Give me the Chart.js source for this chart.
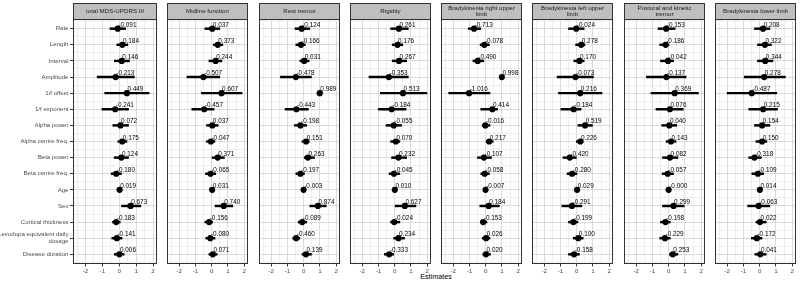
<!DOCTYPE html>
<html lang="en">
<head>
<meta charset="UTF-8">
<title>Estimates by outcome</title>
<script src="https://cdn.jsdelivr.net/npm/chart.js"></script>
<style>
  body { margin: 0; background: #fff; }
  #wrap { position: relative; width: 800px; height: 282px; overflow: hidden; }
  .panel { position: absolute; top: 0; height: 282px; }
  #xlabel {
    position: absolute; left: 336px; width: 200px; top: 272px;
    text-align: center; font: 7.2px 'Liberation Sans', Arial, sans-serif;
    line-height: 10px; color: #000;
  }
</style>
</head>
<body>
<div id="wrap">
  <div id="xlabel">Estimates</div>
</div>

<script>
// rows of every panel (top to bottom)
const rows = ['Rate', 'Length', 'Interval', 'Amplitude', '1/f offset', '1/f exponent',
  'Alpha power', 'Alpha centre freq.', 'Beta power', 'Beta centre freq.', 'Age', 'Sex',
  'Cortical thickness', 'Levodopa equivalent daily\ndosage', 'Disease duration'];

const panelTitles = ['total MDS-UPDRS III', 'Midline function', 'Rest tremor', 'Rigidity',
  'Bradykinesia right upper\nlimb', 'Bradykinesia left upper\nlimb',
  'Postural and kinetic\ntremor', 'Bradykinesia lower limb'];

const xTicks = [-2.5, -2, -1.5, -1, -0.5, 0, 0.5, 1, 1.5, 2];

// point estimates, one array per panel
const estimates = [
  [-0.091, 0.184, 0.146, -0.213, 0.449, -0.241, 0.072, 0.175, 0.124, -0.180, 0.019, 0.673, -0.183, -0.141, 0.006],
  [0.037, 0.373, 0.244, -0.507, 0.607, -0.457, 0.037, -0.047, 0.371, -0.065, 0.031, 0.740, -0.156, -0.080, 0.071],
  [-0.124, -0.166, 0.031, -0.478, 0.989, -0.443, -0.198, 0.151, 0.263, -0.197, -0.003, 0.874, -0.089, -0.460, 0.139],
  [0.261, 0.176, 0.267, -0.353, 0.513, -0.184, -0.055, 0.070, 0.232, -0.045, 0.010, 0.627, -0.024, 0.234, -0.333],
  [-0.713, -0.078, -0.490, 0.998, -1.016, 0.414, -0.016, 0.217, -0.107, -0.058, -0.007, 0.184, -0.153, 0.026, 0.020],
  [-0.024, 0.278, 0.170, -0.073, 0.216, -0.184, 0.519, 0.226, -0.420, -0.280, 0.029, -0.291, -0.199, 0.100, -0.158],
  [-0.153, -0.186, -0.042, -0.137, 0.369, 0.076, 0.040, 0.143, 0.082, -0.057, -0.0004, 0.299, -0.198, -0.229, 0.253],
  [0.208, 0.322, 0.344, 0.278, -0.487, 0.215, 0.154, 0.150, -0.318, -0.109, 0.014, -0.063, 0.022, -0.172, 0.041]
];

// interval ends
const lower = [
  [-0.55, -0.15, -0.29, -1.31, -0.86, -1.03, -0.38, -0.08, -0.30, -0.48, -0.12, 0.13, -0.40, -0.44, -0.29],
  [-0.42, 0.10, -0.17, -1.52, -0.63, -1.22, -0.32, -0.32, 0.00, -0.38, -0.08, 0.21, -0.42, -0.36, -0.17],
  [-0.53, -0.48, -0.23, -1.43, 0.93, -1.14, -0.57, -0.10, 0.04, -0.48, -0.09, 0.38, -0.34, -0.67, -0.10],
  [-0.25, -0.15, -0.15, -1.58, -0.88, -1.00, -0.53, -0.25, -0.19, -0.34, -0.08, 0.00, -0.25, -0.06, -0.63],
  [-1.07, -0.34, -0.78, 0.93, -2.27, -0.30, -0.21, 0.00, -0.50, -0.30, -0.10, -0.36, -0.30, -0.21, -0.17],
  [-0.50, -0.06, -0.17, -1.20, -1.12, -0.97, 0.08, -0.02, -0.84, -0.59, -0.07, -0.91, -0.50, -0.21, -0.50],
  [-0.65, -0.55, -0.50, -1.37, -1.09, -0.78, -0.42, -0.15, -0.38, -0.40, -0.09, -0.38, -0.50, -0.55, 0.05],
  [-0.32, -0.13, -0.13, -0.95, -2.00, -0.67, -0.32, -0.23, -0.67, -0.48, -0.08, -0.74, -0.23, -0.51, -0.29]
];
const upper = [
  [0.38, 0.51, 0.61, 0.90, 1.77, 0.55, 0.55, 0.45, 0.55, 0.13, 0.16, 1.28, 0.06, 0.17, 0.29],
  [0.50, 0.69, 0.63, 0.50, 1.87, 0.15, 0.40, 0.20, 0.78, 0.25, 0.14, 1.30, 0.06, 0.21, 0.34],
  [0.38, 0.10, 0.34, 0.48, 1.05, 0.29, 0.19, 0.34, 0.67, 0.05, 0.08, 1.39, 0.19, -0.23, 0.48],
  [0.84, 0.50, 0.74, 0.84, 1.98, 0.70, 0.42, 0.32, 0.74, 0.32, 0.10, 1.31, 0.32, 0.61, -0.06],
  [-0.30, 0.23, -0.11, 1.07, 0.27, 0.74, 0.27, 0.46, 0.36, 0.23, 0.09, 0.84, 0.08, 0.27, 0.30],
  [0.46, 0.51, 0.46, 1.03, 1.56, 0.27, 0.97, 0.40, -0.02, 0.02, 0.12, 0.32, 0.08, 0.40, 0.17],
  [0.40, 0.02, 0.30, 1.07, 1.83, 0.90, 0.50, 0.45, 0.57, 0.30, 0.09, 0.95, 0.10, 0.10, 0.57],
  [0.63, 0.72, 0.82, 1.58, 1.05, 1.10, 0.63, 0.44, 0.10, 0.25, 0.11, 0.63, 0.40, 0.15, 0.40]
];

const FONT = "'Liberation Sans', Arial, sans-serif";
Chart.defaults.font.family = FONT;

const panelLeft = [0, 164, 256, 347, 438, 529, 621, 712];
const isMajor = v => Number.isInteger(v);

// strip on top, border round the panel, value labels next to the dots
const facetPlugin = {
  id: 'facet',
  afterDatasetsDraw(chart, args, opts) {
    const ctx = chart.ctx;
    const meta = chart.getDatasetMeta(0);
    ctx.save();
    ctx.font = '6.4px ' + FONT;
    ctx.fillStyle = '#000';
    ctx.textAlign = 'left';
    ctx.textBaseline = 'alphabetic';
    meta.data.forEach((pt, k) => {
      ctx.fillText(opts.values[k].toFixed(3), pt.x + 0.6, pt.y - 2);
    });
    ctx.restore();
  },
  afterDraw(chart, args, opts) {
    const {ctx, chartArea: a} = chart;
    const l = Math.round(a.left) + 0.5, r = Math.round(a.right) - 0.5;
    const t = Math.round(a.top) + 0.5, b = Math.round(a.bottom) - 0.5;
    ctx.save();
    ctx.strokeStyle = '#333';
    ctx.lineWidth = 1;
    ctx.strokeRect(l, t, r - l, b - t);
    // strip
    ctx.fillStyle = '#bfbfbf';
    ctx.fillRect(l, 3.5, r - l, t - 3.5);
    ctx.strokeRect(l, 3.5, r - l, t - 3.5);
    ctx.fillStyle = '#1a1a1a';
    ctx.font = '6.2px ' + FONT;
    ctx.textAlign = 'center';
    ctx.textBaseline = 'middle';
    const lines = opts.title.split('\n');
    const mid = (3.5 + t) / 2;
    lines.forEach((s, j) => {
      ctx.fillText(s, (l + r) / 2, mid + (j - (lines.length - 1) / 2) * 6);
    });
    ctx.restore();
  }
};

const wrap = document.getElementById('wrap');

estimates.forEach((est, i) => {
  const first = i === 0;
  const div = document.createElement('div');
  div.className = 'panel';
  div.style.left = panelLeft[i] + 'px';
  div.style.width = (first ? 160 : 87) + 'px';
  const cv = document.createElement('canvas');
  div.appendChild(cv);
  wrap.appendChild(div);

  new Chart(cv, {
    type: 'scatter',
    data: {
      datasets: [
        {
          data: est.map((v, k) => ({x: v, y: k + 1})),
          pointRadius: 3.1,
          pointHoverRadius: 3.1,
          backgroundColor: '#000',
          borderColor: '#000',
          borderWidth: 0
        },
        {
          type: 'bar',
          indexAxis: 'y',
          data: est.map((v, k) => ({y: k + 1, x: [lower[i][k], upper[i][k]]})),
          backgroundColor: '#000',
          borderWidth: 0,
          barThickness: 1.8
        }
      ]
    },
    options: {
      responsive: true,
      maintainAspectRatio: false,
      animation: false,
      events: [],
      layout: {padding: {top: 19, left: 0, right: 0, bottom: 0}},
      plugins: {
        legend: {display: false},
        tooltip: {enabled: false},
        facet: {title: panelTitles[i], values: est}
      },
      scales: {
        x: {
          type: 'linear',
          min: -2.74,
          max: 2.23,
          offset: false,
          afterBuildTicks: s => { s.ticks = xTicks.map(v => ({value: v})); },
          afterFit: s => { s.height = 18; },
          border: {display: false},
          grid: {
            offset: false,
            color: c => (c.tick && isMajor(c.tick.value)) ? '#dadada' : '#eeeeee',
            tickLength: 2.5,
            tickColor: c => (c.tick && isMajor(c.tick.value)) ? '#333' : 'rgba(0,0,0,0)'
          },
          ticks: {
            autoSkip: false,
            maxRotation: 0,
            padding: 1,
            color: '#4d4d4d',
            font: {size: 6.2},
            callback: v => isMajor(v) ? String(v) : ''
          }
        },
        y: {
          type: 'linear',
          reverse: true,
          min: 0.4,
          max: 15.6,
          offset: false,
          afterBuildTicks: s => {
            const t = [];
            for (let v = 0.5; v <= 15.5; v += 0.5) t.push({value: v});
            s.ticks = t;
          },
          afterFit: s => { s.width = first ? 73 : 0; },
          border: {display: false},
          grid: {
            offset: false,
            drawTicks: first,
            color: c => (c.tick && isMajor(c.tick.value)) ? '#dadada' : '#eeeeee',
            tickLength: 3,
            tickColor: c => (c.tick && isMajor(c.tick.value)) ? '#333' : 'rgba(0,0,0,0)'
          },
          ticks: {
            display: first,
            autoSkip: false,
            padding: 1.5,
            color: '#4d4d4d',
            font: {size: 6.1, lineHeight: 1.15},
            callback: v => isMajor(v) ? rows[v - 1].split('\n') : ''
          }
        }
      }
    },
    plugins: [facetPlugin]
  });
});
</script>
</body>
</html>
